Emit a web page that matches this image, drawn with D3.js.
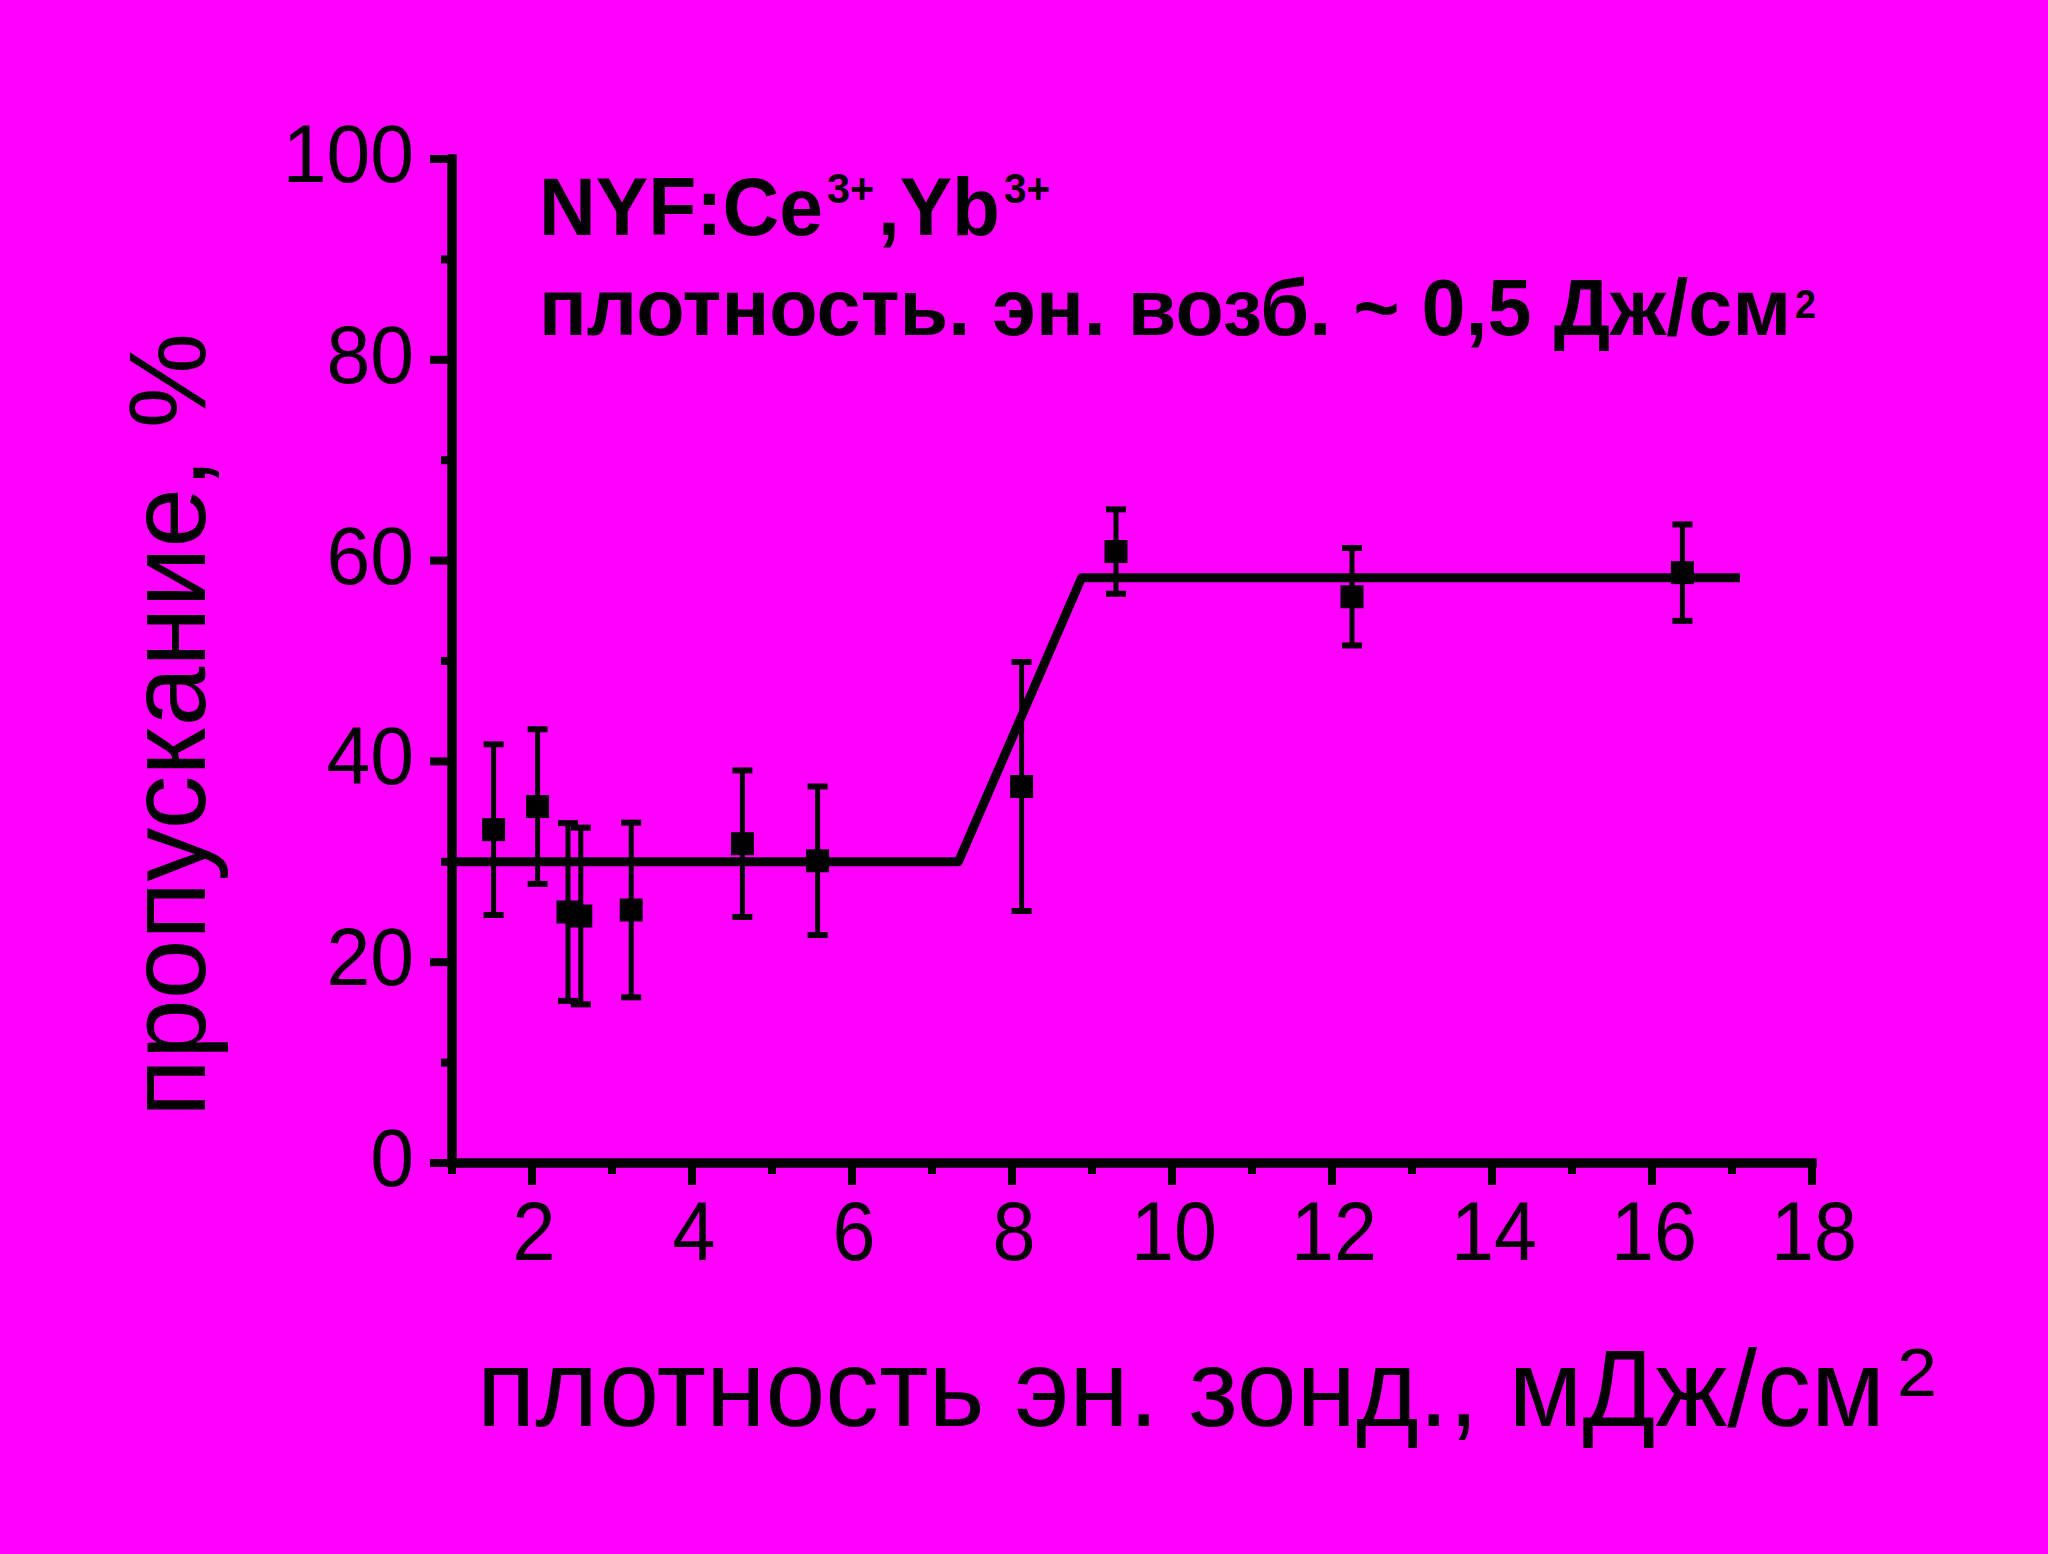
<!DOCTYPE html>
<html>
<head>
<meta charset="utf-8">
<script src="https://cdn.jsdelivr.net/npm/d3@7"></script>
<style>
html,body{margin:0;padding:0;background:#ff00ff;}
svg{display:block;}
text{font-family:"Liberation Sans",Arial,sans-serif;fill:#000;}
</style>
</head>
<body>
<script>
// ---- data ----
const xVals = [1.52, 2.07, 2.45, 2.61, 3.24, 4.63, 5.57, 8.12, 9.30, 12.25, 16.38];
const yVals = [33.2, 35.5, 25.0, 24.6, 25.2, 31.8, 30.1, 37.5, 60.9, 56.4, 58.8];
const yErr  = [8.5, 7.7, 8.85, 8.8, 8.7, 7.3, 7.4, 12.4, 4.2, 4.85, 4.8];
const fitX = [1, 7.33, 8.87, 17.1];
const fitY = [30, 30, 58.3, 58.3];
const xMajor = [2, 4, 6, 8, 10, 12, 14, 16, 18];
const xMinor = [1, 3, 5, 7, 9, 11, 13, 15, 17];
const yMajor = [0, 20, 40, 60, 80, 100];
const yMinor = [10, 30, 50, 70, 90];

const W = 2048, H = 1554;
const svg = d3.select("body").append("svg").attr("width", W).attr("height", H);
svg.append("rect").attr("width", W).attr("height", H).attr("fill", "#ff00ff");

const x = d3.scaleLinear().domain([1, 18]).range([452, 1812]);
const y = d3.scaleLinear().domain([0, 100]).range([1163, 159]);

// fit line
svg.append("path")
  .datum(fitX.map((d, i) => [d, fitY[i]]))
  .attr("fill", "none").attr("stroke", "#000").attr("stroke-width", 9)
  .attr("stroke-linejoin", "round")
  .attr("d", d3.line().x(d => x(d[0])).y(d => y(d[1])));

// axes
function styleAxis(g, w) {
  g.selectAll("path.domain").attr("stroke", "#000").attr("stroke-width", 9).attr("stroke-linecap", "square");
  g.selectAll(".tick line").attr("stroke", "#000").attr("stroke-width", w);
  g.selectAll(".tick text").remove();
}
const gxMin = svg.append("g").attr("transform", "translate(0,1163)")
  .call(d3.axisBottom(x).tickValues(xMinor).tickSize(11).tickSizeOuter(0).offset(0));
styleAxis(gxMin, 8);
const gx = svg.append("g").attr("transform", "translate(0,1163)")
  .call(d3.axisBottom(x).tickValues(xMajor).tickSize(22).tickSizeOuter(0).offset(0));
styleAxis(gx, 8);
const gyMin = svg.append("g").attr("transform", "translate(452,0)")
  .call(d3.axisLeft(y).tickValues(yMinor).tickSize(11).tickSizeOuter(0).offset(0));
styleAxis(gyMin, 8);
const gy = svg.append("g").attr("transform", "translate(452,0)")
  .call(d3.axisLeft(y).tickValues(yMajor).tickSize(22).tickSizeOuter(0).offset(0));
styleAxis(gy, 8);

// tick labels
xMajor.forEach(v => {
  svg.append("text").attr("transform", `translate(${x(v) + 2},1260) scale(0.92,1)`)
    .attr("text-anchor", "middle").attr("font-size", 84).text(v);
});
yMajor.forEach(v => {
  svg.append("text").attr("transform", `translate(414,${y(v) + 23}) scale(0.96,1)`)
    .attr("text-anchor", "end").attr("font-size", 82).text(v);
});

// error bars
const pts = xVals.map((d, i) => ({x: d, y: yVals[i], e: yErr[i]}));
const eb = svg.append("g");
pts.forEach(p => {
  const cx = x(p.x);
  eb.append("line").attr("x1", cx).attr("x2", cx).attr("y1", y(p.y + p.e)).attr("y2", y(p.y - p.e))
    .attr("stroke", "#000").attr("stroke-width", 5);
  [p.y + p.e, p.y - p.e].forEach(v => {
    eb.append("line").attr("x1", cx - 10).attr("x2", cx + 10).attr("y1", y(v)).attr("y2", y(v))
      .attr("stroke", "#000").attr("stroke-width", 6);
  });
});
// markers
svg.append("g").selectAll("rect").data(pts).join("rect")
  .attr("x", d => x(d.x) - 11.5).attr("y", d => y(d.y) - 11.5)
  .attr("width", 23).attr("height", 23).attr("fill", "#000");

// axis titles
svg.append("text").attr("x", 477).attr("y", 1426).attr("font-size", 110)
  .attr("textLength", 1408).attr("lengthAdjust", "spacingAndGlyphs")
  .text("плотность эн. зонд., мДж/см");
svg.append("text").attr("x", 1897).attr("y", 1396).attr("font-size", 68)
  .attr("textLength", 40).attr("lengthAdjust", "spacingAndGlyphs").text("2");

svg.append("text").attr("transform", "translate(205,1117) rotate(-90)").attr("font-size", 110)
  .attr("textLength", 784).attr("lengthAdjust", "spacingAndGlyphs")
  .text("пропускание, %");

// annotation
function t(xp, yp, fs, len, s) {
  svg.append("text").attr("x", xp).attr("y", yp).attr("font-size", fs).attr("font-weight", "bold")
    .attr("textLength", len).attr("lengthAdjust", "spacingAndGlyphs").text(s);
}
t(539, 235, 81, 284, "NYF:Ce");
t(827, 203, 43, 47, "3+");
t(878, 235, 81, 122, ",Yb");
t(1004, 203, 43, 46, "3+");
t(539, 335, 80, 1252, "плотность. эн. возб. ~ 0,5 Дж/см");
t(1795, 318, 40, 21, "2");
</script>
</body>
</html>
